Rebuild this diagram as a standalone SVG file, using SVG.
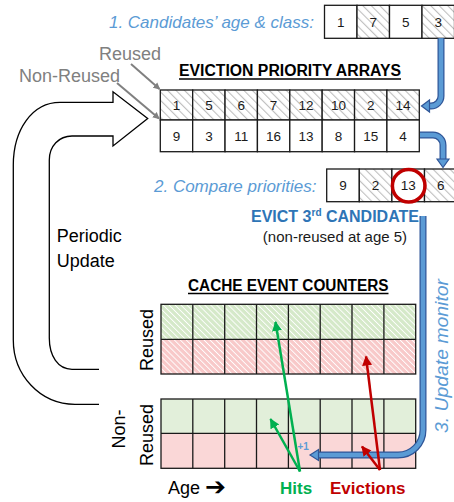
<svg xmlns="http://www.w3.org/2000/svg" width="454" height="502" viewBox="0 0 454 502">
  <style>
    .cell { stroke: #1a1a1a; stroke-width: 1.3; }
    .num { font-family: "Liberation Sans", Arial, sans-serif; font-size: 13.5px; fill: #1a1a1a; text-anchor: middle; }
    .step { font-family: "Liberation Sans", Arial, sans-serif; font-style: italic; font-size: 17px; fill: #5B9BD5; }
    .title { font-family: "Liberation Sans", Arial, sans-serif; font-weight: bold; font-size: 16px; fill: #000; }
    .grey { font-family: "Liberation Sans", Arial, sans-serif; font-size: 18px; fill: #808080; }
    .label { font-family: "Liberation Sans", Arial, sans-serif; font-size: 18px; fill: #000; }
    .shaft-out { fill: none; stroke: #2F5597; stroke-width: 7; }
    .shaft-in { fill: none; stroke: #5B9BD5; stroke-width: 4.6; }
    .head { fill: #5B9BD5; stroke: #2F5597; stroke-width: 1.2; stroke-linejoin: miter; }
    .outline { fill: none; stroke: #000; stroke-width: 1.3; }
  </style>
  <defs>
    <pattern id="hatchGrey" patternUnits="userSpaceOnUse" width="6" height="6" patternTransform="rotate(-45)">
      <rect width="6" height="6" fill="#fff"/>
      <line x1="0" y1="0" x2="0" y2="6" stroke="#BFBFBF" stroke-width="2.2"/>
    </pattern>
    <pattern id="hatchGreen" patternUnits="userSpaceOnUse" width="4.2" height="4.2" patternTransform="rotate(-45)">
      <rect width="4.2" height="4.2" fill="#D5E9C9"/>
      <line x1="0" y1="0" x2="0" y2="4.2" stroke="#fff" stroke-width="1.8"/>
    </pattern>
    <pattern id="hatchRed" patternUnits="userSpaceOnUse" width="4.2" height="4.2" patternTransform="rotate(-45)">
      <rect width="4.2" height="4.2" fill="#F8C9C9"/>
      <line x1="0" y1="0" x2="0" y2="4.2" stroke="#fff" stroke-width="1.8"/>
    </pattern>
    <marker id="arrGrey" markerWidth="8" markerHeight="8" refX="6" refY="4" orient="auto" markerUnits="userSpaceOnUse">
      <path d="M0,0.5 L7,4 L0,7.5 Z" fill="#808080"/>
    </marker>
    <marker id="arrGreen" markerWidth="12" markerHeight="12" refX="9" refY="5" orient="auto" markerUnits="userSpaceOnUse">
      <path d="M0,0 L10,5 L0,10 Z" fill="#00B050"/>
    </marker>
    <marker id="arrRed" markerWidth="12" markerHeight="12" refX="9" refY="5" orient="auto" markerUnits="userSpaceOnUse">
      <path d="M0,0 L10,5 L0,10 Z" fill="#C00000"/>
    </marker>
  </defs>

  <!-- step 1: candidates -->
  <g id="candidates">
    <text class="step" x="314" y="28" text-anchor="end">1. Candidates’ age &amp; class:</text>
    <rect class="cell" x="324.5" y="5.3" width="32.5" height="33" fill="#fff"/>
    <rect class="cell" x="357" y="5.3" width="32.5" height="33" fill="url(#hatchGrey)"/>
    <rect class="cell" x="389.5" y="5.3" width="32.5" height="33" fill="#fff"/>
    <rect class="cell" x="422" y="5.3" width="32.5" height="33" fill="url(#hatchGrey)"/>
    <text class="num" x="340.8" y="26.8">1</text>
    <text class="num" x="373.3" y="26.8">7</text>
    <text class="num" x="405.8" y="26.8">5</text>
    <text class="num" x="438.3" y="26.8">3</text>
  </g>

  <!-- class labels -->
  <g id="class-labels">
    <text class="grey" x="99" y="60">Reused</text>
    <text class="grey" x="19" y="82">Non-Reused</text>
  </g>

  <!-- eviction priority arrays -->
  <g id="priority-arrays">
    <text class="title" x="179" y="76" textLength="222" lengthAdjust="spacingAndGlyphs">EVICTION PRIORITY ARRAYS</text>
    <line x1="179" y1="79" x2="401" y2="79" stroke="#000" stroke-width="1.5"/>
    <g fill="url(#hatchGrey)">
      <rect class="cell" x="160.3" y="90" width="32.375" height="30"/>
      <rect class="cell" x="192.675" y="90" width="32.375" height="30"/>
      <rect class="cell" x="225.05" y="90" width="32.375" height="30"/>
      <rect class="cell" x="257.425" y="90" width="32.375" height="30"/>
      <rect class="cell" x="289.8" y="90" width="32.375" height="30"/>
      <rect class="cell" x="322.175" y="90" width="32.375" height="30"/>
      <rect class="cell" x="354.55" y="90" width="32.375" height="30"/>
      <rect class="cell" x="386.925" y="90" width="32.375" height="30"/>
    </g>
    <g fill="#fff">
      <rect class="cell" x="160.3" y="120" width="32.375" height="31.7"/>
      <rect class="cell" x="192.675" y="120" width="32.375" height="31.7"/>
      <rect class="cell" x="225.05" y="120" width="32.375" height="31.7"/>
      <rect class="cell" x="257.425" y="120" width="32.375" height="31.7"/>
      <rect class="cell" x="289.8" y="120" width="32.375" height="31.7"/>
      <rect class="cell" x="322.175" y="120" width="32.375" height="31.7"/>
      <rect class="cell" x="354.55" y="120" width="32.375" height="31.7"/>
      <rect class="cell" x="386.925" y="120" width="32.375" height="31.7"/>
    </g>
    <text class="num" x="176.5" y="110">1</text>
    <text class="num" x="208.9" y="110">5</text>
    <text class="num" x="241.2" y="110">6</text>
    <text class="num" x="273.6" y="110">7</text>
    <text class="num" x="306" y="110">12</text>
    <text class="num" x="338.4" y="110">10</text>
    <text class="num" x="370.7" y="110">2</text>
    <text class="num" x="403.1" y="110">14</text>
    <text class="num" x="176.5" y="141">9</text>
    <text class="num" x="208.9" y="141">3</text>
    <text class="num" x="241.2" y="141">11</text>
    <text class="num" x="273.6" y="141">16</text>
    <text class="num" x="306" y="141">13</text>
    <text class="num" x="338.4" y="141">8</text>
    <text class="num" x="370.7" y="141">15</text>
    <text class="num" x="403.1" y="141">4</text>
  </g>

  <!-- step 2: compare priorities -->
  <g id="compare">
    <text class="step" x="316.5" y="191.7" text-anchor="end">2. Compare priorities:</text>
    <rect class="cell" x="326.7" y="169" width="32.6" height="32.7" fill="#fff"/>
    <rect class="cell" x="359.3" y="169" width="32.6" height="32.7" fill="url(#hatchGrey)"/>
    <rect class="cell" x="391.9" y="169" width="32.6" height="32.7" fill="#fff"/>
    <rect class="cell" x="424.5" y="169" width="32.6" height="32.7" fill="url(#hatchGrey)"/>
    <text class="num" x="343" y="190.3">9</text>
    <text class="num" x="375.6" y="190.3">2</text>
    <text class="num" x="408.2" y="190.3">13</text>
    <text class="num" x="440.8" y="190.3">6</text>
    <circle cx="408.7" cy="185.8" r="16.3" fill="none" stroke="#C00000" stroke-width="3.5"/>
  </g>

  <!-- eviction decision -->
  <g id="evict-label">
    <text x="335" y="222.3" text-anchor="middle" font-family="Liberation Sans, Arial, sans-serif" font-weight="bold" font-size="16" fill="#2E75B6">EVICT 3<tspan font-size="10" dy="-6">rd</tspan><tspan dy="6"> CANDIDATE</tspan></text>
    <text x="335" y="241.7" text-anchor="middle" font-family="Liberation Sans, Arial, sans-serif" font-size="15" fill="#1a1a1a">(non-reused at age 5)</text>
  </g>

  <!-- periodic update -->
  <g id="periodic-update">
    <path class="outline" d="M99,404.3 H75 C40,404.3 13.3,375 13.3,340 V165 C13.3,130 32,102.3 60,102.3 H113 V91.7 L147.7,118.5 L113,146 V136 H72 C59,136 49.3,146 49.3,160 V338 C49.3,356 58,369.3 72,369.3 H99"/>
    <text class="label" x="56.7" y="242.3" font-size="19">Periodic</text>
    <text class="label" x="56.7" y="267.3" font-size="19">Update</text>
  </g>

  <!-- cache event counters -->
  <g id="counters-title">
    <text class="title" x="188" y="290.7" textLength="200.5" lengthAdjust="spacingAndGlyphs">CACHE EVENT COUNTERS</text>
    <line x1="188" y1="293.6" x2="388.5" y2="293.6" stroke="#000" stroke-width="1.5"/>
  </g>

  <g id="counters-reused">
    <rect x="161" y="304.3" width="254.7" height="35" fill="url(#hatchGreen)"/>
    <rect x="161" y="339.3" width="254.7" height="34.7" fill="url(#hatchRed)"/>
    <g class="cell" fill="none">
      <rect x="161" y="304.3" width="254.7" height="69.7"/>
      <line x1="161" y1="339.3" x2="415.7" y2="339.3"/>
      <line x1="192.8" y1="304.3" x2="192.8" y2="374"/>
      <line x1="224.7" y1="304.3" x2="224.7" y2="374"/>
      <line x1="256.5" y1="304.3" x2="256.5" y2="374"/>
      <line x1="288.4" y1="304.3" x2="288.4" y2="374"/>
      <line x1="320.2" y1="304.3" x2="320.2" y2="374"/>
      <line x1="352" y1="304.3" x2="352" y2="374"/>
      <line x1="383.9" y1="304.3" x2="383.9" y2="374"/>
    </g>
    <text class="label" transform="translate(152.5,340) rotate(-90)" text-anchor="middle">Reused</text>
  </g>

  <g id="counters-nonreused">
    <rect x="161" y="399" width="254.7" height="34.3" fill="#E2EFDA"/>
    <rect x="161" y="433.3" width="254.7" height="35" fill="#FAD7D7"/>
    <g class="cell" fill="none">
      <rect x="161" y="399" width="254.7" height="69.3"/>
      <line x1="161" y1="433.3" x2="415.7" y2="433.3"/>
      <line x1="192.8" y1="399" x2="192.8" y2="468.3"/>
      <line x1="224.7" y1="399" x2="224.7" y2="468.3"/>
      <line x1="256.5" y1="399" x2="256.5" y2="468.3"/>
      <line x1="288.4" y1="399" x2="288.4" y2="468.3"/>
      <line x1="320.2" y1="399" x2="320.2" y2="468.3"/>
      <line x1="352" y1="399" x2="352" y2="468.3"/>
      <line x1="383.9" y1="399" x2="383.9" y2="468.3"/>
    </g>
    <text class="label" transform="translate(125,429) rotate(-90)" text-anchor="middle">Non-</text>
    <text class="label" transform="translate(152.5,435) rotate(-90)" text-anchor="middle">Reused</text>
  </g>

  <!-- axis and legend -->
  <g id="legend">
    <text class="label" x="168" y="494" font-size="17">Age</text>
    <text x="205" y="495" font-family="DejaVu Sans, sans-serif" font-weight="bold" font-size="25" fill="#000">➔</text>
    <text x="280" y="494" font-family="Liberation Sans, Arial, sans-serif" font-weight="bold" font-size="17" fill="#00B050">Hits</text>
    <text x="330" y="494" font-family="Liberation Sans, Arial, sans-serif" font-weight="bold" font-size="17" fill="#C00000">Evictions</text>
  </g>

  <!-- connectors -->
  <g id="connectors">
    <line x1="131" y1="64" x2="159.5" y2="89" stroke="#808080" stroke-width="2" marker-end="url(#arrGrey)"/>
    <line x1="117" y1="83" x2="159" y2="118.5" stroke="#808080" stroke-width="2" marker-end="url(#arrGrey)"/>

    <!-- candidate lookup -->
    <path class="shaft-out" d="M441,38.3 V96 A10,10 0 0 1 431,106 H428"/>
    <path class="shaft-in" d="M441,38.3 V96 A10,10 0 0 1 431,106 H427.5"/>
    <polygon class="head" points="421.5,106 429.5,100 429.5,112"/>

    <!-- priorities out -->
    <path class="shaft-out" d="M420,135 H433 A10,10 0 0 1 443,145 V160"/>
    <path class="shaft-in" d="M420,135 H433 A10,10 0 0 1 443,145 V160.5"/>
    <polygon class="head" points="443,167.5 437,159 449,159"/>

    <!-- monitor update -->
    <path class="shaft-out" d="M423,216 V430 A25,25 0 0 1 398,455 H318"/>
    <path class="shaft-in" d="M423,216 V430 A25,25 0 0 1 398,455 H317.5"/>
    <polygon class="head" points="310,455 318.5,449.5 318.5,460.5"/>
    <text x="0" y="0" transform="translate(448,433) rotate(-90)" font-family="Liberation Sans, Arial, sans-serif" font-style="italic" font-size="18.5" fill="#5B9BD5" textLength="154" lengthAdjust="spacingAndGlyphs">3. Update monitor</text>
    <text x="297.5" y="450" font-family="Liberation Sans, Arial, sans-serif" font-weight="bold" font-size="10" fill="#5B9BD5">+1</text>

    <!-- hits -->
    <line x1="300" y1="471.5" x2="275.5" y2="322" stroke="#00B050" stroke-width="2.5" marker-end="url(#arrGreen)"/>
    <line x1="300" y1="471.5" x2="270.5" y2="419" stroke="#00B050" stroke-width="2.5" marker-end="url(#arrGreen)"/>
    <!-- evictions -->
    <line x1="380" y1="470" x2="366" y2="356.5" stroke="#C00000" stroke-width="2.5" marker-end="url(#arrRed)"/>
    <line x1="380" y1="470" x2="362" y2="446.5" stroke="#C00000" stroke-width="2.5" marker-end="url(#arrRed)"/>
  </g>
</svg>
